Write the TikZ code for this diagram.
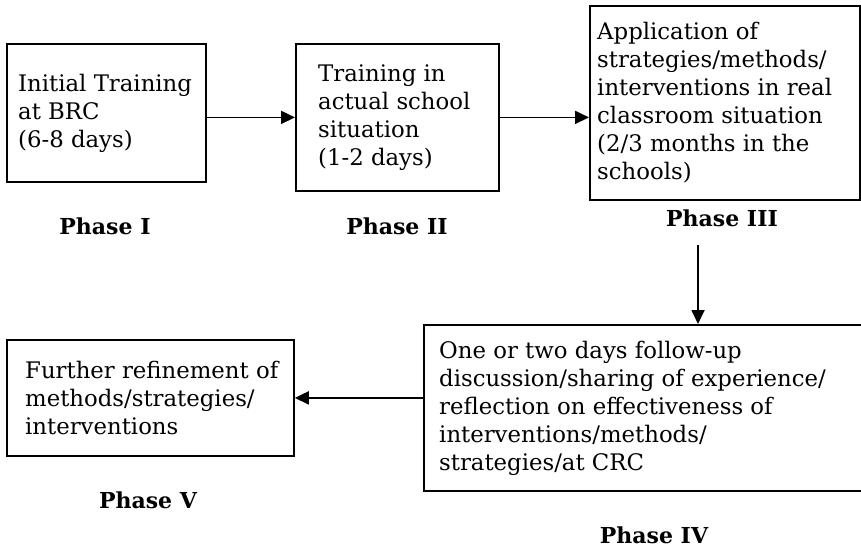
\documentclass[tikz,border=0pt]{standalone}
\usepackage{fontspec}
\setmainfont{DejaVu Serif}
\usetikzlibrary{arrows.meta}
\begin{document}
\begin{tikzpicture}[x=1pt,y=-1pt,
  box/.style={draw, line width=1.8pt, inner sep=0pt, anchor=north west},
  txt/.style={anchor=west, align=left, inner sep=0pt, font=\fontsize{22.8}{28}\selectfont},
  phase/.style={font=\fontsize{22}{25}\selectfont\bfseries, inner sep=0pt},
  arr/.style={line width=1.8pt, -{Triangle[length=14pt,width=13pt]}}]
\useasboundingbox (0,0) rectangle (861,549);
% boxes
\node[box, minimum width=199pt, minimum height=138pt] (b1) at (6,43) {};
\node[box, minimum width=203pt, minimum height=147pt] (b2) at (295,43) {};
\node[box, minimum width=270pt, minimum height=194pt] (b3) at (589,5) {};
\node[box, minimum width=440pt, minimum height=166pt] (b4) at (423,324) {};
\node[box, minimum width=287pt, minimum height=116pt] (b5) at (6,339) {};
% texts
\node[txt] (t1) at ([xshift=12pt]b1.west) {Initial Training\\at BRC\\(6-8 days)};
\node[txt] (t2) at ([xshift=23pt]b2.west) {Training in\\actual school\\situation\\(1-2 days)};
\node[txt] (t3) at ([xshift=8pt]b3.west) {Application of\\strategies/methods/\\interventions in real\\classroom situation\\(2/3 months in the\\schools)};
\node[txt] (t4) at ([xshift=16pt]b4.west) {One or two days follow-up\\discussion/sharing of experience/\\reflection on effectiveness of\\interventions/methods/\\strategies/at CRC};
\node[txt] (t5) at ([xshift=19pt]b5.west) {Further refinement of\\methods/strategies/\\interventions};
% phase labels
\node[phase] (p1) at (105,226) {Phase I};
\node[phase] (p2) at (397,226) {Phase II};
\node[phase] (p3) at (722,218) {Phase III};
\node[phase] (p4) at (654,535) {Phase IV};
\node[phase] (p5) at (148,500) {Phase V};
% connectors
\coordinate (c3) at (698,245);
\draw[arr] (b1.east |- b2.west) -- (b2.west);
\draw[arr] (b2.east) -- (b2.east -| b3.west);
\draw[arr] (c3) -- (c3 |- b4.north);
\draw[arr] (b4.west |- b5.east) -- (b5.east);
\end{tikzpicture}
\end{document}
